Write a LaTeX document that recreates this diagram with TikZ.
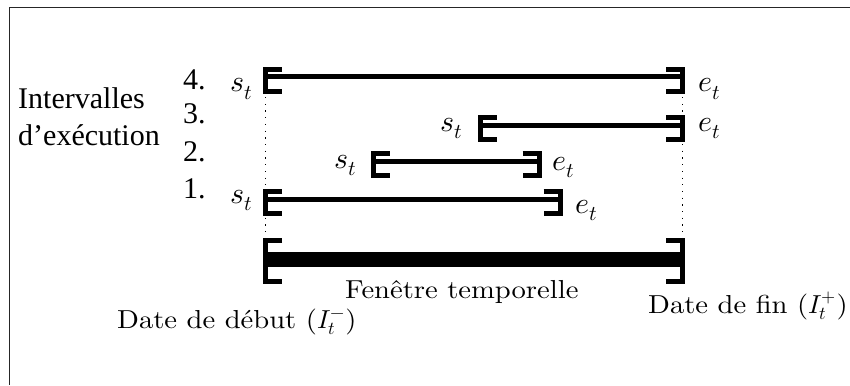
\documentclass[tikz,border=0pt]{standalone}
\usepackage{fontspec}
\usepackage{unicode-math}
\usepackage{tikz}
\usetikzlibrary{calc,positioning}
\setmathfont{Latin Modern Math}
\newfontfamily\timesfont{Liberation Serif}
\newfontfamily\cmfont{lmroman10-regular.otf}[FakeStretch=1.1]
\tikzset{
    frame/.style={
    line width=1.2pt,draw=black!85
    },
    interval/.style={
    line width=5pt
    },
    window/.style={
    line width=15pt
    },
    guide/.style={
    line width=1.2pt,dash pattern=on 1.2pt off 5.5pt
    },
    bracket/.style={
    line width=5pt,line cap=butt,line join=miter
    },
    mlabel/.style={
    inner sep=0pt,font=\fontsize{30}{36}\selectfont
    },
    tlabel/.style={
    inner sep=0pt,font=\timesfont\fontsize{30}{36}\selectfont
    },
    clabel/.style={
    inner sep=0pt,font=\cmfont\fontsize{26}{31}\selectfont
    },
    pics/brk/.style={
    code={\draw[bracket] (16.5pt,7.5pt) -- (0pt,7.5pt) -- (0pt,-14.5pt) -- (16.5pt,-14.5pt);}
    },
    pics/bigbrk/.style={
    code={\draw[bracket] (16.5pt,19pt) -- (0pt,19pt) -- (0pt,-22pt) -- (16.5pt,-22pt);}
    },
}
\begin{document}
\begin{tikzpicture}[x=1pt,y=-1pt]
   \useasboundingbox (0,0) rectangle (850,385);
   \draw[frame] (850,7.5) -- (9.5,7.5) -- (9.5,385);

   \coordinate (s4) at (265.5,77);
   \coordinate (e4) at (682.5,77);
   \coordinate (s3) at (480,125);
   \coordinate (e3) at (682.5,125);
   \coordinate (s2) at (373,161);
   \coordinate (e2) at (539,161);
   \coordinate (s1) at (265.5,199);
   \coordinate (e1) at (560,199);
   \coordinate (ws) at (265.5,259.5);
   \coordinate (we) at (682.5,259.5);

   \draw[guide] (s4) -- (ws);
   \draw[guide] (e4) -- (we);

   \draw[interval] (s4) -- (e4);
   \draw[interval] (s3) -- (e3);
   \draw[interval] (s2) -- (e2);
   \draw[interval] (s1) -- (e1);
   \draw[window] (ws) -- (we);

   \pic at (s4) {brk};
   \pic[xscale=-1] at (e4) {brk};
   \pic at (s3) {brk};
   \pic[xscale=-1] at (e3) {brk};
   \pic at (s2) {brk};
   \pic[xscale=-1] at (e2) {brk};
   \pic at (s1) {brk};
   \pic[xscale=-1] at (e1) {brk};
   \pic at (ws) {bigbrk};
   \pic[xscale=-1] at (we) {bigbrk};

   \node[tlabel,anchor=base west] (title) at (18,109) {Intervalles};
   \node[tlabel,anchor=base west] (title2) at (18,145) {d’exécution};
   \node[tlabel,anchor=base west] (n4) at (183,90) {4.};
   \node[tlabel,anchor=base west] (n3) at (183,123) {3.};
   \node[tlabel,anchor=base west] (n2) at (183,161) {2.};
   \node[tlabel,anchor=base west] (n1) at (183,198) {1.};

   \node[mlabel,anchor=base east] (ls4) at (253,92) {$s_t$};
   \node[mlabel,anchor=base west] (le4) at (698,92) {$e_t$};
   \node[mlabel,anchor=base east] (ls3) at (463,131) {$s_t$};
   \node[mlabel,anchor=base west] (le3) at (698,131) {$e_t$};
   \node[mlabel,anchor=base east] (ls2) at (357,168) {$s_t$};
   \node[mlabel,anchor=base west] (le2) at (552,170) {$e_t$};
   \node[mlabel,anchor=base east] (ls1) at (253,203) {$s_t$};
   \node[mlabel,anchor=base west] (le1) at (575,213) {$e_t$};

   \node[clabel,anchor=base west] (win) at (345,298) {Fenêtre temporelle};
   \node[clabel,anchor=base west] (start) at (117,328) {Date de début ($I_t^-$)};
   \node[clabel,anchor=base west] (end) at (648,313) {Date de fin ($I_t^+$)};
\end{tikzpicture}
\end{document}
